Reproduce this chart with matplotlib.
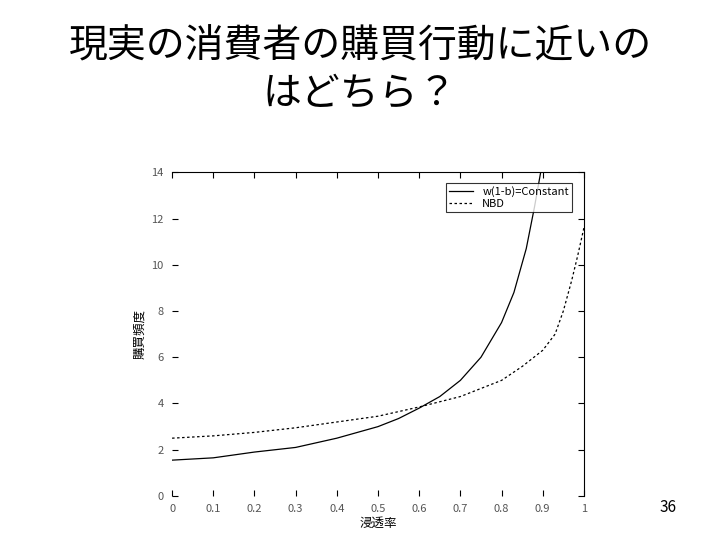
import numpy as np
import matplotlib.pyplot as plt

plt.rcParams['font.family'] = ['Noto Sans CJK JP', 'DejaVu Sans']

# 浸透率 (x) と購買頻度 (y)
x_const = [0.0, 0.1, 0.2, 0.3, 0.4, 0.5, 0.55, 0.6, 0.65, 0.7, 0.75, 0.8, 0.83, 0.86, 0.88, 0.9]
y_const = [1.55, 1.65, 1.9, 2.1, 2.5, 3.0, 3.35, 3.8, 4.3, 5.0, 6.0, 7.5, 8.8, 10.7, 12.5, 14.5]

x_nbd = [0.0, 0.1, 0.2, 0.3, 0.4, 0.5, 0.6, 0.7, 0.8, 0.85, 0.9, 0.93, 0.95, 0.97, 0.985, 1.0]
y_nbd = [2.5, 2.6, 2.75, 2.95, 3.2, 3.45, 3.85, 4.3, 5.0, 5.6, 6.3, 7.0, 8.0, 9.3, 10.4, 11.6]

xticks = [0, 0.1, 0.2, 0.3, 0.4, 0.5, 0.6, 0.7, 0.8, 0.9, 1]
xticklabels = ['0', '0.1', '0.2', '0.3', '0.4', '0.5', '0.6', '0.7', '0.8', '0.9', '1']
yticks = [0, 2, 4, 6, 8, 10, 12, 14]

fig = plt.figure(figsize=(7.2, 5.4), dpi=100)
fig.text(0.5, 0.87, '現実の消費者の購買行動に近いの\nはどちら？', ha='center', va='center',
         fontsize=28, linespacing=1.25)
fig.text(0.928, 0.06, '36', ha='center', va='center', fontsize=11)

ax = fig.add_axes([0.239, 0.0815, 0.572, 0.5995])
ax.plot(x_const, y_const, color='black', lw=0.9, label='w(1-b)=Constant')
ax.plot(x_nbd, y_nbd, color='black', lw=0.9, dashes=(2, 2), label='NBD')

ax.set_xlim(0, 1)
ax.set_ylim(0, 14)
ax.set_xticks(xticks)
ax.set_xticklabels(xticklabels)
ax.set_yticks(yticks)
ax.tick_params(direction='in', top=True, right=True, length=4, labelsize=8,
               labelcolor='#555555', pad=6)
ax.spines['left'].set_visible(False)
ax.spines['bottom'].set_visible(False)
ax.set_xlabel('浸透率', fontsize=9, labelpad=2)
ax.set_ylabel('購買頻度', fontsize=9, labelpad=4)

leg = ax.legend(loc='upper right', fontsize=8, frameon=True, fancybox=False,
                edgecolor='black', borderpad=0.3, handlelength=2.2,
                labelspacing=0.2, bbox_to_anchor=(0.985, 0.985))
leg.get_frame().set_linewidth(0.8)

plt.savefig('out.png', dpi=100)
